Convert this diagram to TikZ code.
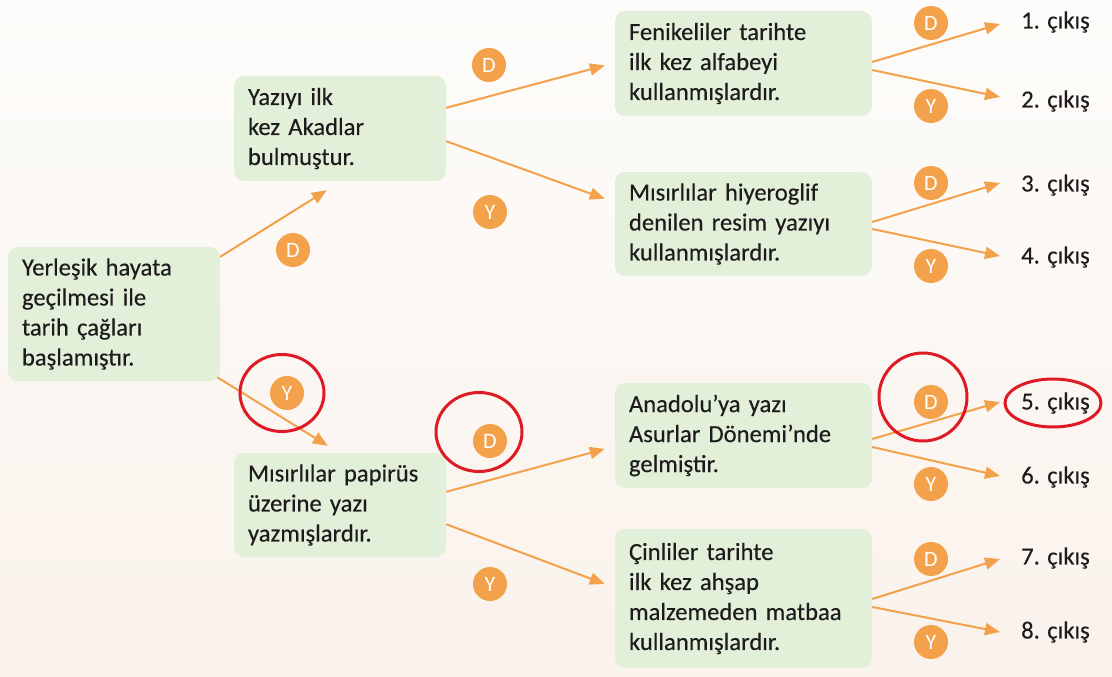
\documentclass[tikz,border=0pt]{standalone}
\usepackage{fontspec}
\setmainfont{Carlito}[FakeBold=0.3]
\newfontfamily\badgefont{Carlito}
\usetikzlibrary{arrows.meta,calc}
\definecolor{boxgreen}{RGB}{226,240,217}
\definecolor{arrorange}{RGB}{243,161,74}
\definecolor{markred}{RGB}{222,26,36}
\definecolor{txt}{RGB}{30,27,28}
\definecolor{bgtop}{RGB}{253,252,250}
\definecolor{bgbot}{RGB}{250,242,236}
\tikzset{
  stmt/.style={rectangle, rounded corners=10pt, fill=boxgreen, inner xsep=14pt, inner ysep=0pt,
    align=left, text=txt, font=\fontsize{24.6}{30}\selectfont},
  badge/.style={circle, fill=arrorange, minimum size=34pt, inner sep=0pt, text=white,
    font=\badgefont\fontsize{22}{22}\selectfont},
  exitlbl/.style={anchor=west, inner sep=0pt, text=txt, font=\fontsize{24.6}{30}\selectfont},
  conn/.style={draw=arrorange, line width=2pt, -{Triangle[length=15pt,width=12pt]}},
  redmark/.style={draw=markred, line width=3pt},
}
\begin{document}
\begin{tikzpicture}[x=1pt,y=-1pt]
\useasboundingbox (0,0) rectangle (1112,677);
\fill[top color=bgtop, bottom color=bgbot] (0,0) rectangle (1112,677);

% statement boxes
\node[stmt, minimum width=212pt, minimum height=134pt, text width=184pt] (root) at (114,314)
  {Yerleşik hayata\\geçilmesi ile\\tarih çağları\\başlamıştır.};
\node[stmt, minimum width=212pt, minimum height=105pt, text width=184pt] (a) at (340,128.5)
  {Yazıyı ilk\\kez Akadlar\\bulmuştur.};
\node[stmt, minimum width=212pt, minimum height=104pt, text width=184pt] (b) at (340,505)
  {Mısırlılar papirüs\\üzerine yazı\\yazmışlardır.};
\node[stmt, minimum width=257pt, minimum height=105pt, text width=229pt] (c1) at (743.5,63.5)
  {Fenikeliler tarihte\\ilk kez alfabeyi\\kullanmışlardır.};
\node[stmt, minimum width=257pt, minimum height=104pt, text width=229pt] (c2) at (743.5,224)
  {Mısırlılar hiyeroglif\\denilen resim yazıyı\\kullanmışlardır.};
\node[stmt, minimum width=257pt, minimum height=105pt, text width=229pt] (c3) at (743.5,435.5)
  {Anadolu’ya yazı\\Asurlar Dönemi’nde\\gelmiştir.};
\node[stmt, minimum width=257pt, minimum height=139pt, text width=229pt] (c4) at (743.5,598.5)
  {Çinliler tarihte\\ilk kez ahşap\\malzemeden matbaa\\kullanmışlardır.};

% exits
\node[exitlbl] (e1) at (1021,22) {1. çıkış};
\node[exitlbl] (e2) at (1021,101) {2. çıkış};
\node[exitlbl] (e3) at (1021,185) {3. çıkış};
\node[exitlbl] (e4) at (1021,257) {4. çıkış};
\node[exitlbl] (e5) at (1021,403) {5. çıkış};
\node[exitlbl] (e6) at (1021,477) {6. çıkış};
\node[exitlbl] (e7) at (1021,558) {7. çıkış};
\node[exitlbl] (e8) at (1021,632) {8. çıkış};

% connectors
\draw[conn] ($(root.north east)+(0,10)$) -- ($(a.south west)+(93,9)$);
\draw[conn] ($(root.south east)+(-3,-4)$) -- ($(b.north west)+(94,-7)$);
\draw[conn] ($(a.north east)+(0,32)$) -- ($(c1.west)+(-10,2)$);
\draw[conn] ($(a.south east)+(0,-40)$) -- ($(c2.north west)+(-10,27)$);
\draw[conn] ($(b.north east)+(0,39)$) -- ($(c3.west)+(-10,13.5)$);
\draw[conn] ($(b.south east)+(0,-33)$) -- ($(c4.west)+(-10,-14.5)$);
\draw[conn] ($(c1.east)+(0,-1.5)$) -- ($(e1.west)+(-21,2)$);
\draw[conn] ($(c1.east)+(0,6.5)$) -- ($(e2.west)+(-21,-4)$);
\draw[conn] ($(c2.east)+(0,-2)$) -- ($(e3.west)+(-21,-2)$);
\draw[conn] ($(c2.east)+(0,5)$) -- ($(e4.west)+(-21,-1)$);
\draw[conn] ($(c3.east)+(0,3.5)$) -- ($(e5.west)+(-21,-1)$);
\draw[conn] ($(c3.east)+(0,11.5)$) -- ($(e6.west)+(-21,-1)$);
\draw[conn] ($(c4.east)+(0,0.5)$) -- ($(e7.west)+(-21,1)$);
\draw[conn] ($(c4.east)+(0,8.5)$) -- ($(e8.west)+(-21,0)$);

% badges
\node[badge] (d1) at (489,65) {D};
\node[badge] (y1) at (490,212) {Y};
\node[badge] (d0) at (293,250) {D};
\node[badge] (y0) at (287,393) {Y};
\node[badge] (d2) at (490,441) {D};
\node[badge] (y2) at (490,584) {Y};
\node[badge] (d11) at (931,23) {D};
\node[badge] (y11) at (931,106) {Y};
\node[badge] (d12) at (931,183) {D};
\node[badge] (y12) at (931,266) {Y};
\node[badge] (d21) at (931,402) {D};
\node[badge] (y21) at (931,484) {Y};
\node[badge] (d22) at (931,559) {D};
\node[badge] (y22) at (931,642) {Y};

% red hand-drawn marks
\draw[redmark] (282,393) ellipse [x radius=42, y radius=38.5];
\draw[redmark] (479,432) ellipse [x radius=43, y radius=39.5];
\draw[redmark] (923,397) ellipse [x radius=44, y radius=44];
\draw[redmark] (1053,403) ellipse [x radius=48, y radius=24];
\end{tikzpicture}
\end{document}
